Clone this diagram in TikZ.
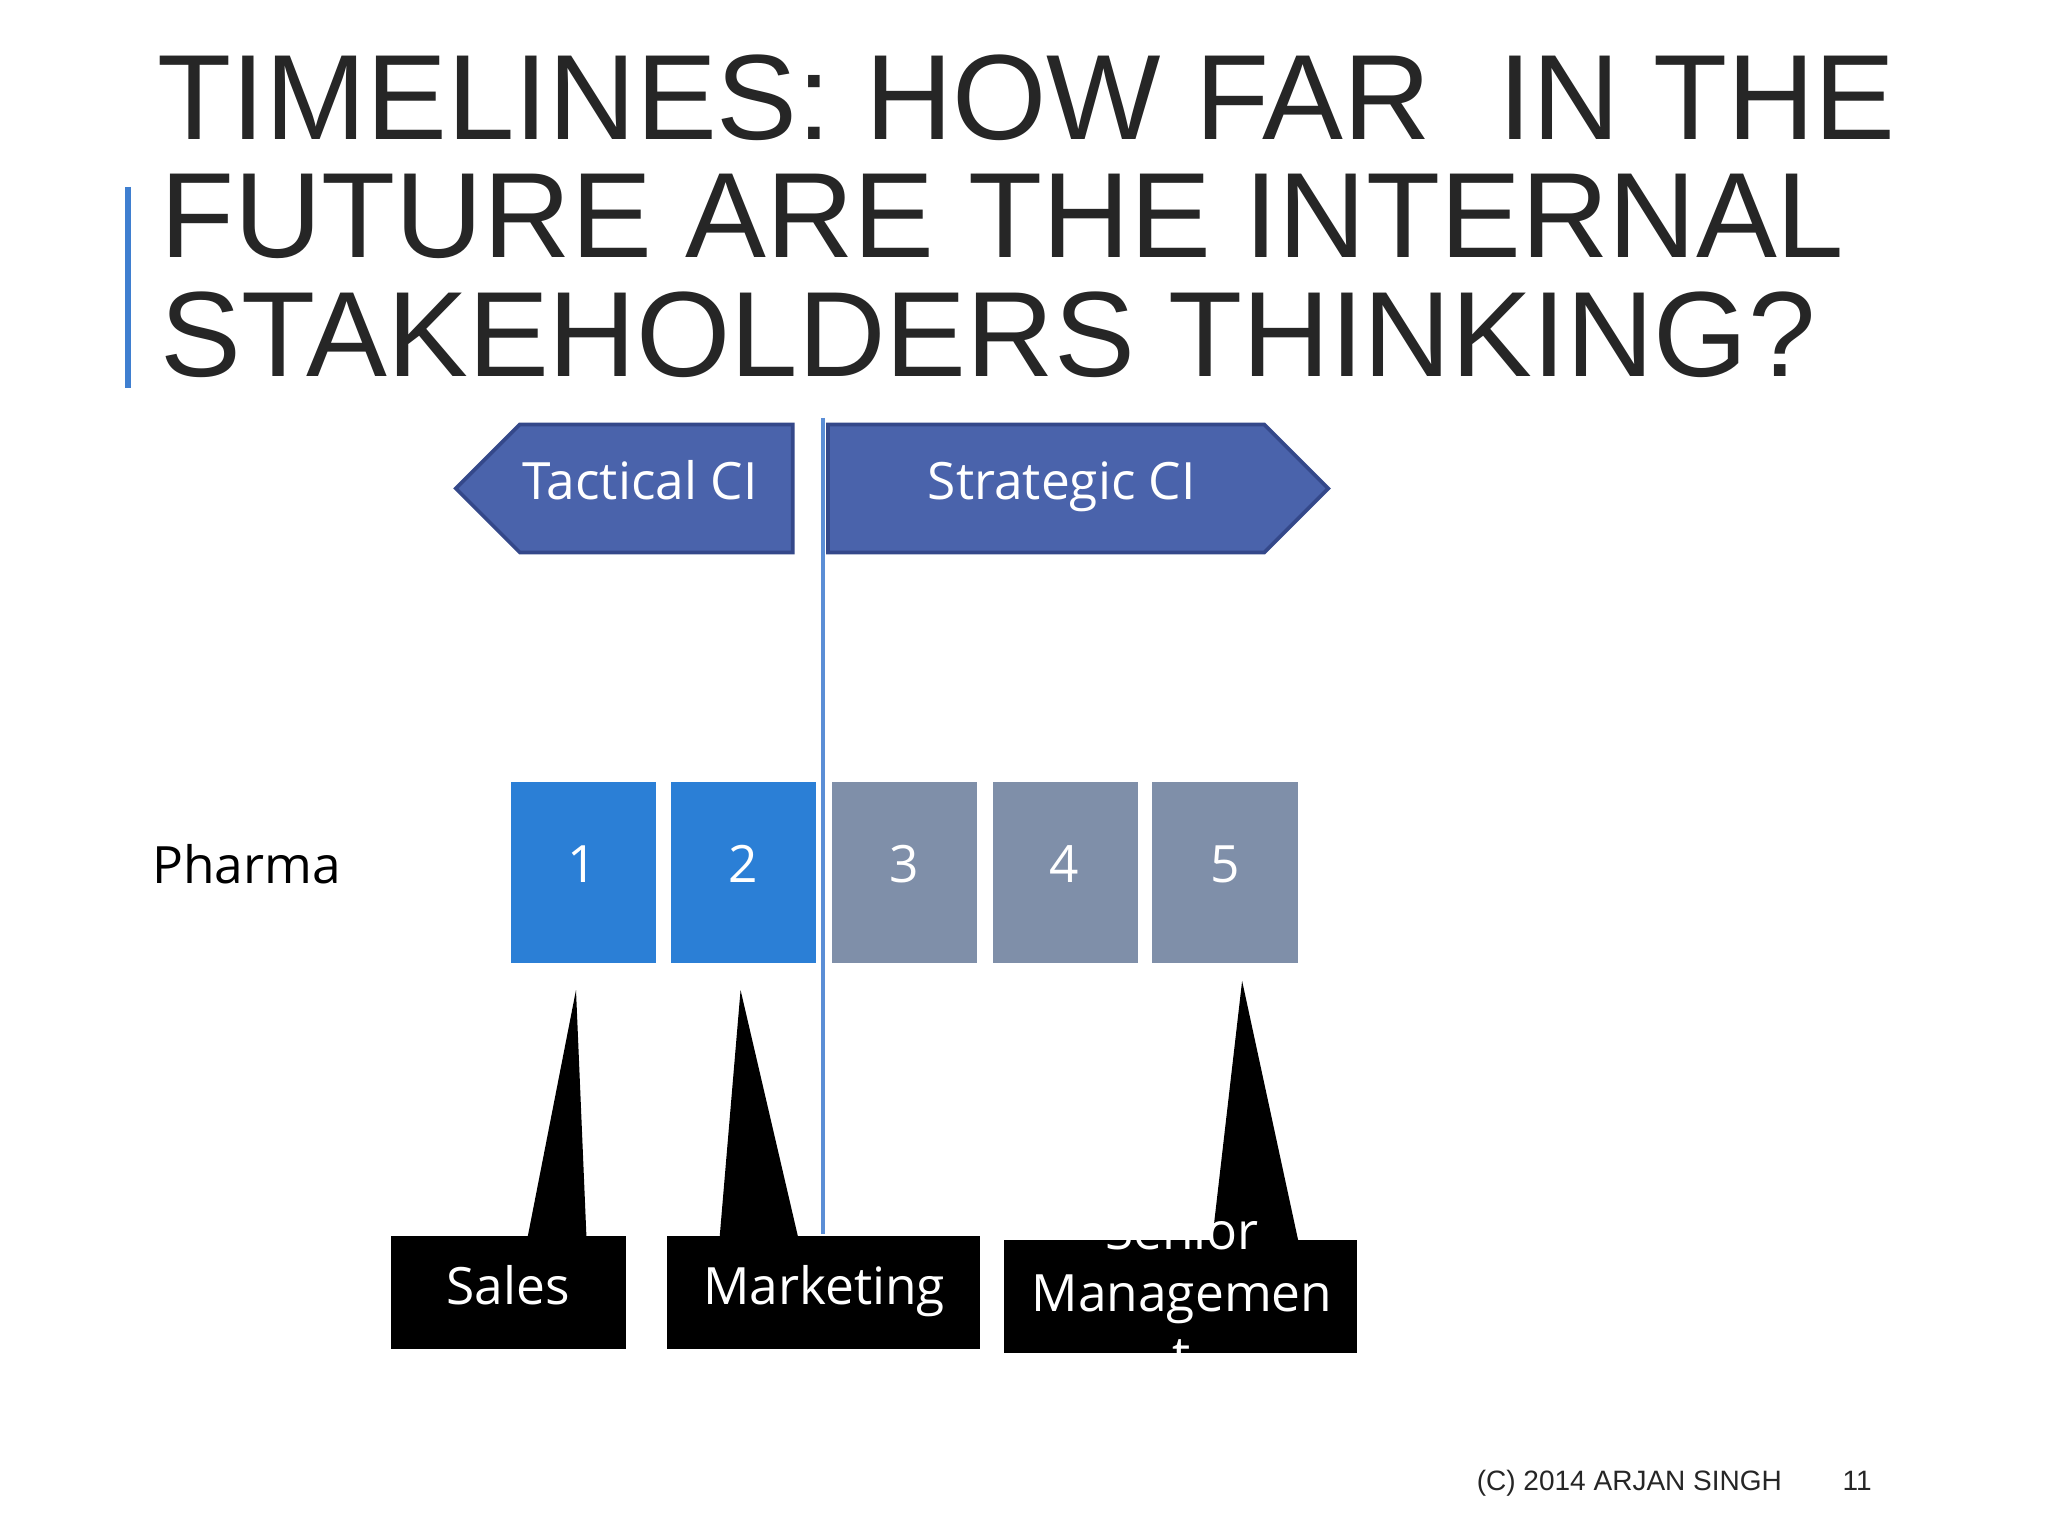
\documentclass[tikz,border=0pt]{standalone}
\usepackage{fontspec}
\setmainfont{Liberation Sans}
\newfontfamily\lab{Open Sans}
\begin{document}
\begin{tikzpicture}[x=0.01cm,y=-0.01cm,
  ttl/.style={anchor=base west,inner sep=0,text=ttlc,font=\fontsize{26.4pt}{27pt}\selectfont},
  arr/.style={fill=arrblue,draw=arrborder,line width=0.8pt},
  num/.style={draw=none,inner sep=0,text=white,text height=1.5ex,text depth=.25ex,font=\lab\fontsize{11.2pt}{12pt}\selectfont},
  blk/.style={fill=black,draw=none},
  bl/.style={text=white,font=\lab\fontsize{11.2pt}{13.5pt}\selectfont,align=center,inner sep=0}]
\definecolor{ttlc}{HTML}{262626}
\definecolor{arrblue}{HTML}{4A63AB}
\definecolor{arrborder}{HTML}{34488A}
\definecolor{bbl}{HTML}{2B7FD6}
\definecolor{bgr}{HTML}{7F8FA9}
\definecolor{vline}{HTML}{5B8ED6}
\definecolor{bar}{HTML}{3F7FD0}
\useasboundingbox (0,0) rectangle (1568,1176);
\fill[white] (0,0) rectangle (1568,1176);
\node[ttl] (t1) at (120,107) {TIMELINES: HOW FAR\ \ IN THE};
\node[ttl] (t2) at (122,197) {FUTURE ARE THE INTERNAL};
\node[ttl] (t3) at (122,288) {STAKEHOLDERS THINKING?};
\draw[bar,line width=1.2pt] (98,143) -- (98,297);
\draw[arr] (349,374) -- (398,325) -- (607,325) -- (607,423) -- (398,423) -- cycle;
\draw[arr] (634,325) -- (968,325) -- (1017,374) -- (968,423) -- (634,423) -- cycle;
\node[num] (tac) at (490,371) {Tactical CI};
\node[num] (str) at (813,371) {Strategic CI};
\fill[bbl] (391,599) rectangle (502,737);
\fill[bbl] (514,599) rectangle (625,737);
\fill[bgr] (637,599) rectangle (748,737);
\fill[bgr] (760,599) rectangle (871,737);
\fill[bgr] (882,599) rectangle (994,737);
\node[num] (n1) at (446,664) {1};
\node[num] (n2) at (569,664) {2};
\node[num] (n3) at (692,664) {3};
\node[num] (n4) at (815,664) {4};
\node[num] (n5) at (938,664) {5};
\node[num,text=black,anchor=west] (ph) at (116,665) {Pharma};
\draw[vline,line width=0.8pt] (630,320) -- (630,945);
\fill[blk] (299,946) rectangle (479,1033);
\fill[blk] (404,947) -- (441,758) -- (449,947) -- cycle;
\fill[blk] (511,946) rectangle (750,1033);
\fill[blk] (551,947) -- (567,758) -- (611,947) -- cycle;
\fill[blk] (769,949) rectangle (1039,1036);
\fill[blk] (928,950) -- (951,751) -- (994,950) -- cycle;
\node[num] (s) at (389,987) {Sales};
\node[num] (m) at (631,987) {Marketing};
\node[bl] (sm) at (905,990) {Senior\\Managemen\\t};
\node[anchor=base west,inner sep=0,font=\fontsize{6.1pt}{7pt}\selectfont,text=black!85] (f1) at (1130,1141) {(C) 2014 ARJAN SINGH};
\node[anchor=base west,inner sep=0,font=\fontsize{6.1pt}{7pt}\selectfont,text=black!85] (f2) at (1410,1141) {11};
\end{tikzpicture}
\end{document}
